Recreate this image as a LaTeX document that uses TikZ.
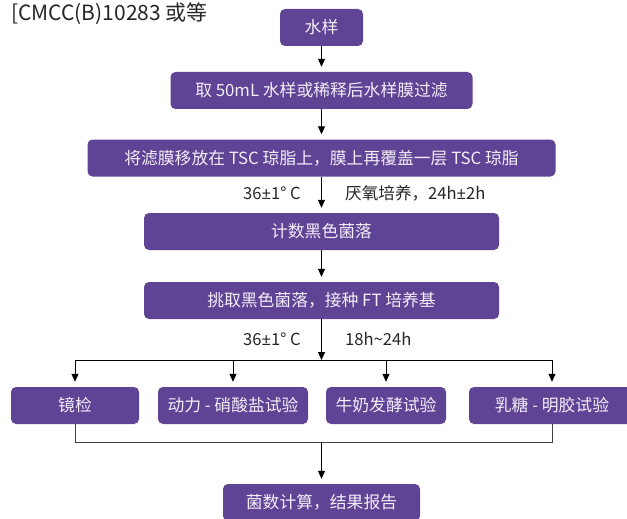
\documentclass[tikz,border=0pt]{standalone}
\usepackage{fontspec}
\setmainfont{Noto Sans CJK SC}
\newfontfamily\latinfont{Noto Sans}
\newcommand{\pmx}{{\latinfont ±}}
\usetikzlibrary{arrows.meta}
\definecolor{boxpurple}{HTML}{5F4496}
\definecolor{boxtext}{HTML}{F2EDF7}
\tikzset{
  stepbox/.style={fill=boxpurple, rounded corners=5pt, text=boxtext,
    font=\fontsize{16.8}{18}\selectfont, minimum height=37pt, inner sep=0pt, anchor=center},
  flow/.style={draw=black, line width=1pt, -{Triangle[width=7pt,length=8pt]}, shorten >=5pt},
  merge/.style={draw=black!75, line width=1pt},
  lbl/.style={font=\fontsize{16.6}{18}\selectfont, text=black!85, inner sep=0pt}
}
\begin{document}
\begin{tikzpicture}[x=1pt,y=-1pt]
\clip (0,0) rectangle (627,519);
\node[lbl, anchor=west, font=\fontsize{21}{23}\selectfont] (title) at (11,14) {[CMCC(B)10283 或等};
\node[stepbox, minimum width=83pt] (n1) at (321.5,27.5) {水样};
\node[stepbox, minimum width=302pt] (n2) at (321.5,90.5) {取 50mL 水样或稀释后水样膜过滤};
\node[stepbox, minimum width=468pt] (n3) at (321.5,158) {将滤膜移放在 TSC 琼脂上，膜上再覆盖一层 TSC 琼脂};
\node[stepbox, minimum width=355pt] (n4) at (321.5,231.5) {计数黑色菌落};
\node[stepbox, minimum width=355pt] (n5) at (321.5,300.5) {挑取黑色菌落，接种 FT 培养基};
\node[stepbox, minimum width=128pt] (b1) at (75,405.5) {镜检};
\node[stepbox, minimum width=150pt] (b2) at (233,405.5) {动力 - 硝酸盐试验};
\node[stepbox, minimum width=120pt] (b3) at (386,405.5) {牛奶发酵试验};
\node[stepbox, minimum width=166pt] (b4) at (552,405.5) {乳糖 - 明胶试验};
\node[stepbox, minimum width=197pt] (fin) at (321.5,502.5) {菌数计算，结果报告};
\node[lbl, anchor=east] (t1) at (301,193) {36\pmx1° C};
\node[lbl, anchor=west] (t2) at (345,193) {厌氧培养，24h\pmx2h};
\node[lbl, anchor=east] (t3) at (301,339) {36\pmx1° C};
\node[lbl, anchor=west] (t4) at (345,339) {18h\textasciitilde24h};
\coordinate (sp) at (321.5,360);
\coordinate (spl) at (75,360);
\coordinate (spr) at (552,360);
\coordinate (mg) at (321.5,442);
\coordinate (mgl) at (75,442);
\coordinate (mgr) at (552,442);
\draw[flow] (n1.south) -- (n2.north);
\draw[flow] (n2.south) -- (n3.north);
\draw[flow] (n3.south) -- (n4.north);
\draw[flow] (n4.south) -- (n5.north);
\draw[flow, shorten >=0pt] (n5.south) -- (sp);
\draw[line width=1pt] (spl) -- (spr);
\draw[flow] (spl) -- (b1.north);
\draw[flow] (233,360) -- (b2.north);
\draw[flow] (386,360) -- (b3.north);
\draw[flow] (spr) -- (b4.north);
\draw[merge] (b1.south) -- (mgl) -- (mgr) -- (b4.south);
\draw[flow] (mg) -- (fin.north);
\end{tikzpicture}
\end{document}
